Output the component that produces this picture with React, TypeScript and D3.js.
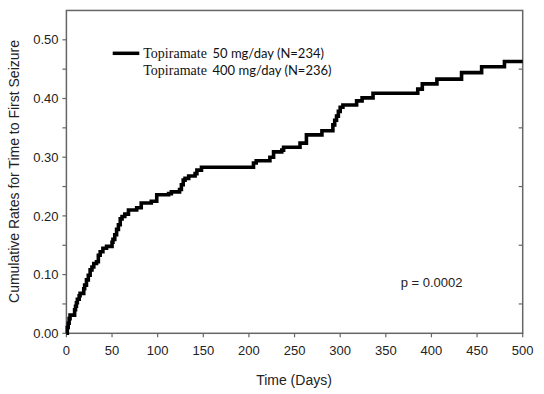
import React from "react";
import * as d3 from "d3";

const days = [0,1,2,3,4,9,10,11,12,14,15,19,20,22,24,26,28,30,33,35,37,40,44,50,51,53,55,57,59,61,64,68,77,82,93,99,112,115,124,126,128,130,134,141,143,148,205,208,223,227,236,238,256,263,280,292,294,296,298,300,303,318,324,336,385,390,406,433,455,480,500];
const rates = [0,0.010,0.017,0.025,0.031,0.040,0.046,0.052,0.058,0.064,0.068,0.076,0.082,0.091,0.099,0.108,0.113,0.119,0.122,0.133,0.139,0.145,0.148,0.155,0.160,0.168,0.177,0.185,0.195,0.199,0.203,0.210,0.214,0.222,0.225,0.236,0.238,0.241,0.245,0.253,0.261,0.264,0.268,0.272,0.278,0.283,0.290,0.294,0.300,0.309,0.312,0.317,0.324,0.338,0.345,0.355,0.363,0.370,0.378,0.385,0.389,0.396,0.401,0.409,0.416,0.425,0.433,0.444,0.454,0.463,0.463];

const xTicks = [0,50,100,150,200,250,300,350,400,450,500];
const yMajor = [0,0.1,0.2,0.3,0.4,0.5];
const yMinor = [0.05,0.15,0.25,0.35,0.45];
const legendLabels = ["50 mg/day (N=234)", "400 mg/day (N=236)"];
const legendDrug = "Topiramate";
const pText = "p = 0.0002";

export default function App() {
  const x = d3.scaleLinear().domain([0, 500]).range([66.4, 522.7]);
  const y = d3.scaleLinear().domain([0, 0.55]).range([333.3, 10.45]);
  const pts: [number, number][] = days.map((d, i) => [d, rates[i]]);
  const line = d3.line<[number, number]>().x(d => x(d[0])).y(d => y(d[1])).curve(d3.curveStepAfter);
  const fmt = d3.format(".2f");
  const axisColor = "#666";
  const textColor = "#222";
  const sans: React.CSSProperties = { fontFamily: "Liberation Sans" };
  const serif: React.CSSProperties = { fontFamily: "Liberation Serif" };
  const calibri: React.CSSProperties = { fontFamily: "Lato" };
  return (
    <svg width={544} height={394} style={{ position: "absolute", left: 0, top: 0, background: "#fff" }}>
      <rect x={0} y={0} width={544} height={394} fill="#fff" />
      <rect x={x(0)} y={y(0.55)} width={x(500) - x(0)} height={y(0) - y(0.55)} fill="none" stroke={axisColor} strokeWidth={1.5} />
      {yMajor.concat(yMinor).map((v, i) => (
        <line key={"yl" + i} x1={x(0) - 4} x2={x(0)} y1={y(v)} y2={y(v)} stroke={axisColor} strokeWidth={1.2} />
      ))}
      {yMajor.map((v, i) => (
        <text key={"ylt" + i} x={58.5} y={y(v)} dy="0.36em" textAnchor="end" style={sans} fontSize={13} fill={textColor}>{fmt(v)}</text>
      ))}
      {yMinor.map((v, i) => (
        <line key={"yr" + i} x1={x(500) - 4} x2={x(500)} y1={y(v)} y2={y(v)} stroke={axisColor} strokeWidth={1.2} />
      ))}
      {xTicks.map((v, i) => (
        <g key={"xt" + i}>
          <line x1={x(v)} x2={x(v)} y1={y(0)} y2={y(0) + 4} stroke={axisColor} strokeWidth={1.2} />
          <text x={x(v)} y={355} textAnchor="middle" style={sans} fontSize={13} fill={textColor}>{v}</text>
        </g>
      ))}
      <text x={294} y={384.5} textAnchor="middle" style={sans} fontSize={14} fill={textColor}>Time (Days)</text>
      <text transform="translate(18.5,171.5) rotate(-90)" textAnchor="middle" style={sans} fontSize={14} fill={textColor}>Cumulative Rates for Time to First Seizure</text>
      <path d={line(pts) || ""} fill="none" stroke="#000" strokeWidth={3.6} strokeLinejoin="miter" />
      <line x1={112.7} x2={139.3} y1={53.3} y2={53.3} stroke="#000" strokeWidth={3.5} />
      {legendLabels.map((l, i) => (
        <g key={"lg" + i}>
          <text x={143.3} y={58.3 + i * 16.7} fill="#111" style={serif} fontSize={14}>{legendDrug}</text>
          <text x={212.5} y={58.3 + i * 16.7} fill="#111" style={calibri} fontSize={13}>{l}</text>
        </g>
      ))}
      <text x={400.7} y={286.7} style={sans} fontSize={13} fill={textColor}>{pText}</text>
    </svg>
  );
}
